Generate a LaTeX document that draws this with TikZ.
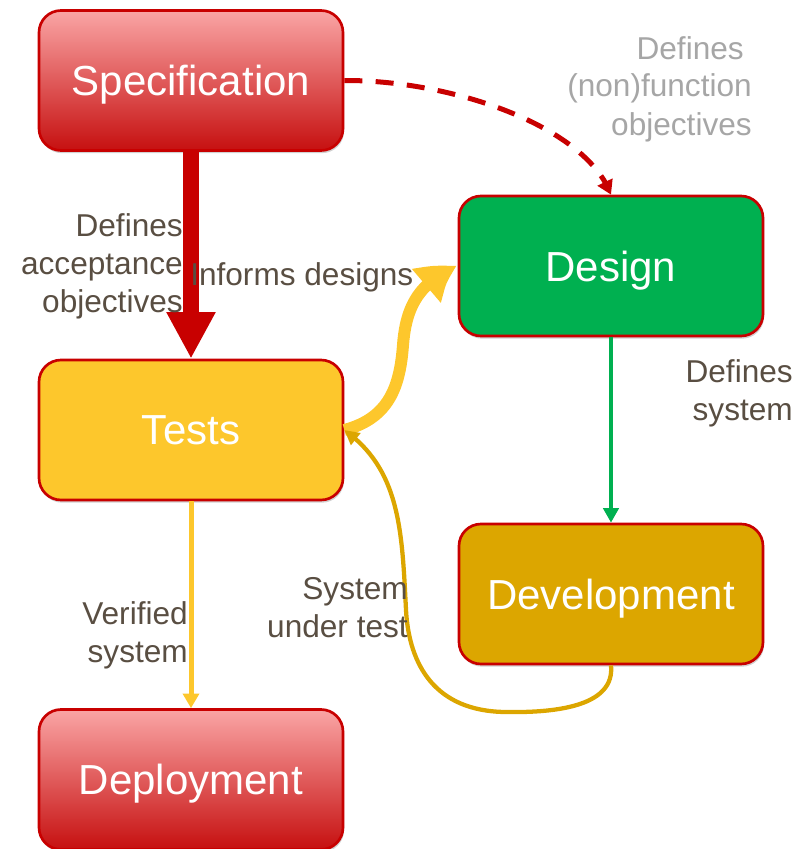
\documentclass[tikz,border=0pt]{standalone}
\usepackage{fontspec}
\setmainfont{Liberation Sans}
\usetikzlibrary{arrows.meta,shadows,bending}
\definecolor{boxred}{RGB}{200,0,0}
\definecolor{pinktop}{RGB}{250,165,165}
\definecolor{pinkmid}{RGB}{236,128,128}
\definecolor{pinkbot}{RGB}{198,16,16}
\definecolor{testyel}{RGB}{253,199,44}
\definecolor{devgold}{RGB}{220,166,0}
\definecolor{desgreen}{RGB}{0,176,80}
\definecolor{labelc}{RGB}{89,78,66}
\definecolor{greylabel}{RGB}{166,166,166}
\tikzset{
  stagebox/.style={draw=boxred, line width=2pt, rounded corners=16.5pt,
    minimum width=228pt, minimum height=105pt, inner sep=0pt,
    text=white, font=\fontsize{31.5}{38}\selectfont, text depth=0pt,
    drop shadow={shadow xshift=0.8pt, shadow yshift=-2pt, opacity=0.18, fill=black}},
  redbox/.style={stagebox, top color=pinktop, middle color=pinkmid, bottom color=pinkbot},
  edgelabel/.style={text=labelc, align=right, inner sep=0pt,
    font=\fontsize{23.7}{28.5}\selectfont},
}
\begin{document}
\begin{tikzpicture}[x=0.75pt,y=-0.75pt]
\useasboundingbox (0,0) rectangle (808,849);
% boxes
\node[redbox] (spec) at (191,80.5) {Specification};
\node[stagebox, fill=desgreen] (design) at (611,266) {Design};
\node[stagebox, fill=testyel] (tests) at (191,430) {Tests};
\node[stagebox, fill=devgold] (dev) at (611,594) {Development};
\node[redbox] (deploy) at (191,779.5) {Deployment};
% connectors
\draw[boxred, line width=12pt, -{Triangle[width=34.5pt,length=35pt]}]
  (spec.south) -- (tests.north);
\draw[boxred, line width=3.75pt, dash pattern=on 13.5pt off 10pt,
  -{Triangle[width=12pt,length=10.5pt]}]
  (spec.east) .. controls (450,80) and (585,125) .. (design.north);
\draw[testyel, line width=9pt, -{Triangle[width=30pt,length=30pt,bend]}]
  (tests.east) .. controls (390,418) and (400,385) .. (403,345)
  .. controls (406,305) and (420,282) .. (design.west);
\draw[desgreen, line width=3pt, -{Triangle[width=11.5pt,length=11pt]}]
  (design.south) -- (dev.north);
\draw[devgold, line width=3.2pt, -{Triangle[width=11pt,length=11pt]}]
  (dev.south) .. controls (615,705) and (560,713) .. (505,712)
  .. controls (435,711) and (409,665) .. (406,610)
  .. controls (402,530) and (400,470) .. (tests.east);
\draw[testyel, line width=3.75pt, -{Triangle[width=12pt,length=11pt]}]
  (tests.south) -- (deploy.north);
% labels (base anchor = baseline of last line)
\node[edgelabel, text=greylabel, anchor=base east] (lbldes) at (752,135)
  {Defines\hspace*{6pt}\\(non)function\\objectives};
\node[edgelabel, anchor=base east] (lblacc) at (183,312)
  {Defines\\acceptance\\objectives};
\node[edgelabel, anchor=base west] (lblinf) at (190,285) {Informs designs};
\node[edgelabel, anchor=base east] (lblsys) at (793,420) {Defines\\system};
\node[edgelabel, anchor=base east] (lblsut) at (408,637) {System\\under test};
\node[edgelabel, anchor=base east] (lblver) at (188,662) {Verified\\system};
\end{tikzpicture}
\end{document}
